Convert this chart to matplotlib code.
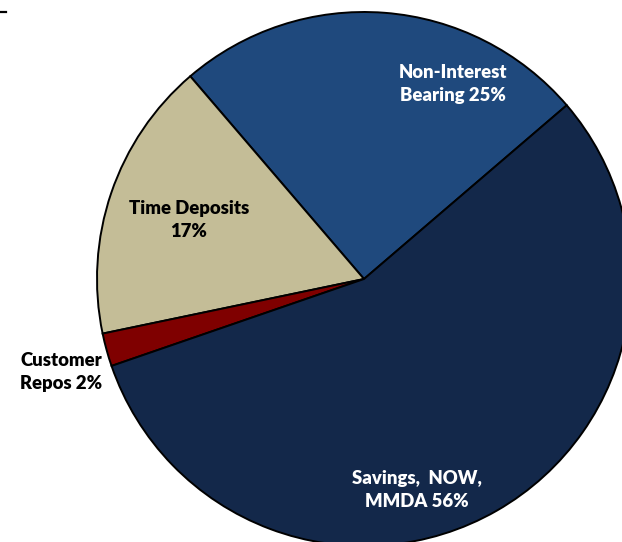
import matplotlib
matplotlib.use("Agg")
import matplotlib.pyplot as plt
from matplotlib.lines import Line2D

# Deposit mix (percent of total deposits)
categories = ["Non-Interest\nBearing", "Time Deposits\n", "Customer\nRepos", "Savings,  NOW,\nMMDA"]
shares = [25, 17, 2, 56]
colors = ["#1f497d", "#c4bd97", "#7f0000", "#13284a"]
text_colors = ["white", "black", "black", "white"]

# label anchor points in pixel space of the 622x542 canvas
label_px = [(453, 84), (189, 220), (61, 372), (417, 490)]

W, H, DPI = 622, 542, 100
CX, CY, R = 364, 279, 267

plt.rcParams["font.family"] = ["Lato", "DejaVu Sans"]

fig = plt.figure(figsize=(W / DPI, H / DPI), dpi=DPI)
ax = fig.add_axes([0, 0, 1, 1])

ax.pie(
    shares,
    colors=colors,
    startangle=40.6,
    counterclock=True,
    radius=1.0,
    wedgeprops=dict(edgecolor="black", linewidth=1.4),
)
ax.set_xlim(-CX / R, (W - CX) / R)
ax.set_ylim(-(H - CY) / R, CY / R)
ax.set_aspect("auto")
ax.axis("off")

for cat, val, (px, py), tc in zip(categories, shares, label_px, text_colors):
    if cat.endswith("\n"):
        txt = f"{cat}{val}%"
    else:
        txt = f"{cat} {val}%"
    ax.text((px - CX) / R, (CY - py) / R, txt, ha="center", va="center",
            fontsize=13.3, fontweight="heavy", color=tc, linespacing=1.45)

# small rule at the top-left corner
fig.add_artist(Line2D([0, 6 / W], [1 - 11.5 / H, 1 - 11.5 / H],
                      transform=fig.transFigure, color="black", linewidth=1.6))

fig.savefig("out.png", dpi=DPI)
